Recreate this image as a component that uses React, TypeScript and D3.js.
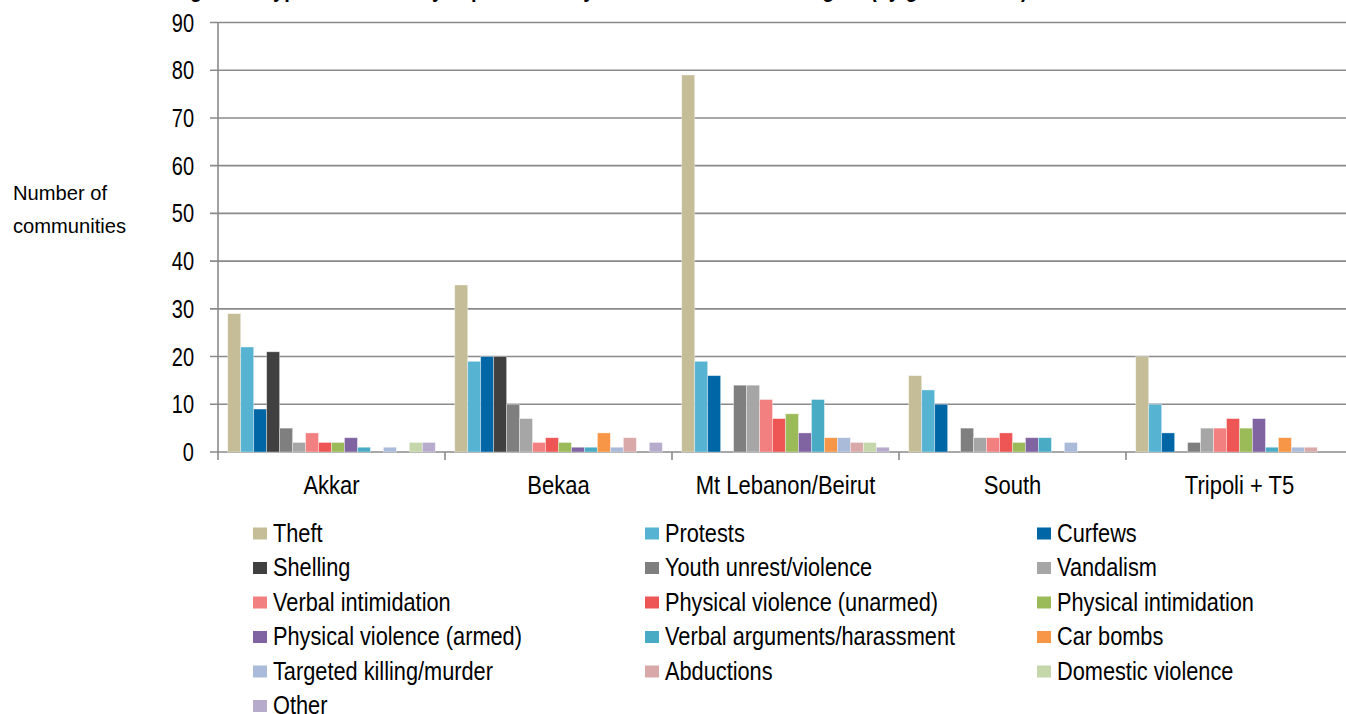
import React from "react";
import * as d3 from "d3";

const categories = ["Akkar", "Bekaa", "Mt Lebanon/Beirut", "South", "Tripoli + T5"];
const seriesNames = [
  "Theft", "Protests", "Curfews", "Shelling", "Youth unrest/violence", "Vandalism",
  "Verbal intimidation", "Physical violence (unarmed)", "Physical intimidation",
  "Physical violence (armed)", "Verbal arguments/harassment", "Car bombs",
  "Targeted killing/murder", "Abductions", "Domestic violence", "Other",
];
const seriesColors = [
  "#c4bd97", "#56b3d1", "#0066a6", "#404040", "#7f7f7f", "#a6a6a6",
  "#f28080", "#ee5656", "#9bbb59", "#8064a2", "#4aabc5", "#f79646",
  "#aabad9", "#d9a9a9", "#c5d7aa", "#b6abcb",
];
// values per region, in series order
const akkar = [29, 22, 9, 21, 5, 2, 4, 2, 2, 3, 1, 0, 1, 0, 2, 2];
const bekaa = [35, 19, 20, 20, 10, 7, 2, 3, 2, 1, 1, 4, 1, 3, 0, 2];
const mtLebanon = [79, 19, 16, 0, 14, 14, 11, 7, 8, 4, 11, 3, 3, 2, 2, 1];
const south = [16, 13, 10, 0, 5, 3, 3, 4, 2, 3, 3, 0, 2, 0, 0, 0];
const tripoli = [20, 10, 4, 0, 2, 5, 5, 7, 5, 7, 1, 3, 1, 1, 0, 0];
const regionValues = [akkar, bekaa, mtLebanon, south, tripoli];
const yTicks = [0, 10, 20, 30, 40, 50, 60, 70, 80, 90];
const yTitle = ["Number of", "communities"];
const chartTitle = "Figure 5: Types of insecurity experienced by communities in each region (by governorate)";

const W = 1346, H = 714;
const axisX = 218, groupW = 227;
const y0px = 452, y90px = 22.5;
const font = "'Liberation Sans', Arial, sans-serif";

function SText({ x, y, sx, anchor = "start", size, children, weight = "normal", dy }: any) {
  return (
    <g transform={`translate(${x},${y}) scale(${sx},1)`}>
      <text x={0} y={0} dy={dy} textAnchor={anchor} fontFamily={font} fontSize={size} fontWeight={weight} fill="#000">{children}</text>
    </g>
  );
}

export default function App() {
  const x = d3.scaleBand<string>().domain(categories).range([axisX, axisX + groupW * categories.length]).paddingInner(0).paddingOuter(0);
  const xs = d3.scaleBand<string>().domain(seriesNames).range([0, x.bandwidth()]).paddingInner(0).paddingOuter(0.75);
  const y = d3.scaleLinear().domain([0, 90]).range([y0px, y90px]);
  const legendCols = [253, 645, 1037];
  const legendRow0 = 533.5, legendRowH = 34.5;

  return (
    <svg width={W} height={H} style={{ position: "absolute", left: 0, top: 0, background: "#fff" }}>
      <SText x={600} y={-3.5} sx={0.87} anchor="middle" size={23} weight="bold">{chartTitle}</SText>
      {yTicks.map((t) => (
        <g key={t}>
          <line x1={210} x2={W} y1={y(t)} y2={y(t)} stroke="#8a8a8a" strokeWidth={1.6} />
          <SText x={194} y={y(t)} dy="0.36em" sx={0.8} anchor="end" size={25}>{t}</SText>
        </g>
      ))}
      <line x1={axisX} x2={axisX} y1={y(90)} y2={y(0)} stroke="#8a8a8a" strokeWidth={1.6} />
      {d3.range(categories.length + 1).map((i) => (
        <line key={i} x1={axisX + i * groupW} x2={axisX + i * groupW} y1={y(0)} y2={y(0) + 8} stroke="#8a8a8a" strokeWidth={1.6} />
      ))}
      {categories.map((c, ci) => (
        <g key={c}>
          {seriesNames.map((s, si) => {
            const v = regionValues[ci][si];
            if (!v) return null;
            return (
              <rect key={s} x={(x(c) as number) + (xs(s) as number)} width={xs.bandwidth()} y={y(v)} height={y(0) - y(v)}
                fill={seriesColors[si]} stroke="#ffffff" strokeOpacity={0.45} strokeWidth={0.8} />
            );
          })}
          <SText x={(x(c) as number) + x.bandwidth() / 2} y={494} sx={0.88} anchor="middle" size={25}>{c}</SText>
        </g>
      ))}
      {yTitle.map((l, i) => (
        <SText key={l} x={13} y={200 + i * 33} sx={0.96} size={21}>{l}</SText>
      ))}
      {seriesNames.map((s, i) => {
        const col = i % 3, row = Math.floor(i / 3);
        const cy = legendRow0 + row * legendRowH;
        return (
          <g key={s}>
            <rect x={legendCols[col]} y={cy - 6} width={14} height={12} fill={seriesColors[i]} />
            <SText x={legendCols[col] + 20} y={cy + 8} sx={0.87} size={25}>{s}</SText>
          </g>
        );
      })}
    </svg>
  );
}
